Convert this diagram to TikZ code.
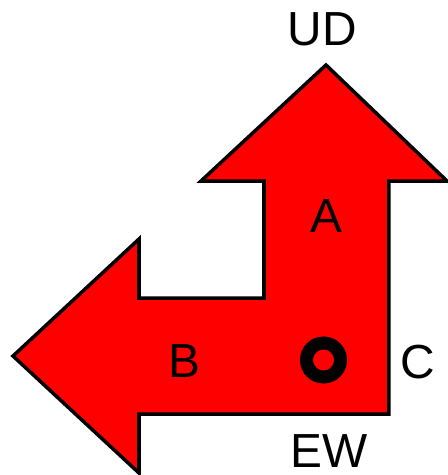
\documentclass[tikz,border=0pt]{standalone}
\usepackage{fontspec}
\setmainfont{Liberation Sans}
\tikzstyle{body} = [draw=black, fill=red, line width=0.035cm, miter limit=10]
\tikzstyle{lbl} = [inner sep=0pt, font={\fontsize{13.6}{16}\selectfont}]
\tikzstyle{pivot} = [draw=black, fill=red, circle, line width=0.13cm, minimum size=0.34cm, inner sep=0pt]

\begin{document}
\begin{tikzpicture}[x=0.01cm, y=-0.01cm]
    \useasboundingbox (0,0) rectangle (447,475);
    \draw[body] (326,65) -- (447,181) -- (389,181) -- (389,414) -- (139,414)
      -- (139,473) -- (13,356) -- (139,239) -- (139,298) -- (264,298)
      -- (264,181) -- (201,181) -- cycle;
    \node[pivot](pin) at (323.5,360){};
    \node[lbl](ud) at (322.5,29){UD};
    \node[lbl](a) at (326,216){A};
    \node[lbl](b) at (184.5,361){B};
    \node[lbl](c) at (417.5,362){C};
    \node[lbl](ew) at (329.5,451){EW};
  \end{tikzpicture}
\end{document}
